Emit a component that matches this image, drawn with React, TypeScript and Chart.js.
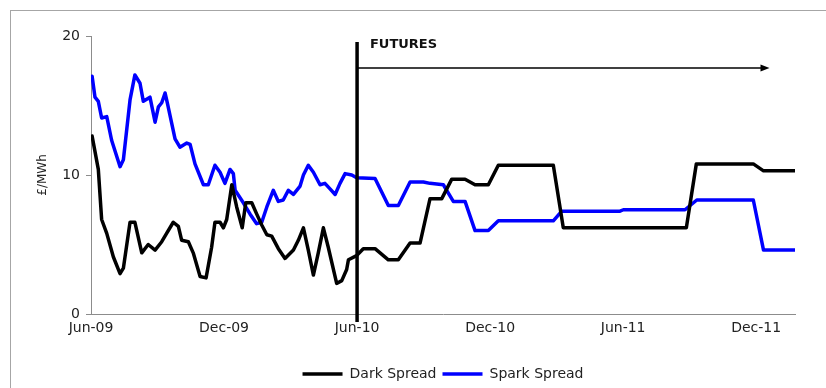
import { useEffect, useRef } from "react";
import { Chart, registerables } from "chart.js";

Chart.register(...registerables);

// x values are months elapsed since June 2009
const xTickMonths = [0, 6, 12, 18, 24, 30];
const xTickLabels = ["Jun-09", "Dec-09", "Jun-10", "Dec-10", "Jun-11", "Dec-11"];
const yTicks = [0, 10, 20];

const darkMonths = [
  0.05, 0.33, 0.48, 0.71, 1.01, 1.31, 1.46, 1.76, 1.98, 2.29, 2.58, 2.89, 3.19, 3.41, 3.71, 3.94,
  4.09, 4.39, 4.61, 4.92, 5.19, 5.44, 5.59, 5.82, 5.97, 6.12, 6.35, 6.57, 6.82, 6.98, 7.25, 7.47,
  7.7, 7.93, 8.15, 8.45, 8.75, 9.13, 9.35, 9.58, 9.8, 10.03, 10.25, 10.48, 10.7, 11.08, 11.31,
  11.53, 11.61, 11.98, 12.28, 12.81, 13.41, 13.86, 14.39, 14.84, 15.29, 15.82, 16.27, 16.87,
  17.32, 17.92, 18.37, 20.85, 21.3, 26.85, 27.3, 29.87, 30.33, 31.75,
];
const darkValues = [
  12.8, 10.4, 6.8, 5.8, 4.1, 2.9, 3.3, 6.6, 6.6, 4.4, 5.0, 4.6, 5.2, 5.8, 6.6, 6.3,
  5.3, 5.2, 4.4, 2.7, 2.6, 4.8, 6.6, 6.6, 6.2, 6.8, 9.3, 7.7, 6.2, 8.0, 8.0, 7.2,
  6.4, 5.7, 5.6, 4.7, 4.0, 4.6, 5.3, 6.2, 4.6, 2.8, 4.4, 6.2, 4.8, 2.2, 2.4,
  3.2, 3.9, 4.2, 4.7, 4.7, 3.9, 3.9, 5.1, 5.1, 8.3, 8.3, 9.7, 9.7,
  9.3, 9.3, 10.7, 10.7, 6.2, 6.2, 10.8, 10.8, 10.3, 10.3,
];

const sparkMonths = [
  0.05, 0.18, 0.33, 0.48, 0.71, 0.93, 1.31, 1.46, 1.76, 1.98, 2.21, 2.36, 2.66, 2.89, 3.04, 3.19,
  3.34, 3.44, 3.79, 4.01, 4.32, 4.47, 4.69, 5.07, 5.29, 5.59, 5.82, 6.04, 6.27, 6.42, 6.5, 6.87,
  7.17, 7.47, 7.7, 7.93, 8.22, 8.45, 8.67, 8.9, 9.13, 9.43, 9.58, 9.8, 10.03, 10.33, 10.55,
  10.78, 11.01, 11.23, 11.46, 11.76, 11.98, 12.81, 13.41, 13.86, 14.39, 14.99, 15.29, 15.89,
  16.34, 16.87, 17.32, 17.92, 18.37, 20.85, 21.23, 23.86, 24.01, 26.79, 27.32, 29.87, 30.33, 31.75,
];
const sparkValues = [
  17.1, 15.6, 15.3, 14.1, 14.2, 12.5, 10.6, 11.1, 15.4, 17.2, 16.6, 15.3, 15.6, 13.8, 14.9, 15.2,
  15.9, 15.2, 12.6, 12.0, 12.3, 12.2, 10.8, 9.3, 9.3, 10.7, 10.2, 9.4, 10.4, 10.1, 8.9, 8.0,
  7.2, 6.5, 6.6, 7.7, 8.9, 8.1, 8.2, 8.9, 8.6, 9.2, 10.0, 10.7, 10.2, 9.3, 9.4,
  9.0, 8.6, 9.4, 10.1, 10.0, 9.8, 9.75, 7.8, 7.8, 9.5, 9.5, 9.4, 9.3,
  8.1, 8.1, 6.0, 6.0, 6.7, 6.7, 7.4, 7.4, 7.5, 7.5, 8.2, 8.2, 4.6, 4.6,
];

// Futures period marker: starts at Jun-10, arrow runs to early 2012
const futuresStart = 12;
const futuresArrowEnd = 30.6;
const futuresLabel = "FUTURES";

const FONT = "'DejaVu Sans', 'Liberation Sans', Arial, sans-serif";
const AXIS_GREY = "#8c8c8c";
const TEXT = "#222222";

const futuresPlugin = {
  id: "futuresMarker",
  afterDatasetsDraw(chart: any) {
    const { ctx, chartArea, scales } = chart;
    const x = scales.x;
    const y = scales.y;
    const x0 = x.getPixelForValue(futuresStart);
    const x1 = x.getPixelForValue(futuresArrowEnd);
    const yTop = y.getPixelForValue(19.57);
    const yArrow = y.getPixelForValue(17.7);
    const yBottom = chartArea.bottom + 8;

    ctx.save();
    ctx.strokeStyle = "#000";
    ctx.lineWidth = 3.5;
    ctx.beginPath();
    ctx.moveTo(x0, yTop);
    ctx.lineTo(x0, yBottom);
    ctx.stroke();

    ctx.lineWidth = 1.5;
    ctx.beginPath();
    ctx.moveTo(x0, yArrow);
    ctx.lineTo(x1 - 6, yArrow);
    ctx.stroke();

    ctx.fillStyle = "#000";
    ctx.beginPath();
    ctx.moveTo(x1, yArrow);
    ctx.lineTo(x1 - 9, yArrow - 3.5);
    ctx.lineTo(x1 - 9, yArrow + 3.5);
    ctx.closePath();
    ctx.fill();

    ctx.fillStyle = "#111";
    ctx.font = `bold 13px ${FONT}`;
    ctx.textAlign = "left";
    ctx.textBaseline = "middle";
    ctx.fillText(futuresLabel, x.getPixelForValue(12.58), y.getPixelForValue(19.35));
    ctx.restore();
  },
};

export default function App() {
  const canvasRef = useRef<HTMLCanvasElement | null>(null);

  useEffect(() => {
    const canvas = canvasRef.current;
    if (!canvas) return;

    const chart = new Chart(canvas, {
      type: "line",
      data: {
        datasets: [
          {
            label: "Dark Spread",
            data: darkMonths.map((m, i) => ({ x: m, y: darkValues[i] })),
            borderColor: "#000000",
            backgroundColor: "#000000",
            borderWidth: 3.5,
            pointRadius: 0,
            tension: 0,
            borderJoinStyle: "round",
            borderCapStyle: "round",
          },
          {
            label: "Spark Spread",
            data: sparkMonths.map((m, i) => ({ x: m, y: sparkValues[i] })),
            borderColor: "#0000ff",
            backgroundColor: "#0000ff",
            borderWidth: 3.5,
            pointRadius: 0,
            tension: 0,
            borderJoinStyle: "round",
            borderCapStyle: "round",
          },
        ],
      },
      options: {
        responsive: false,
        maintainAspectRatio: false,
        animation: false,
        devicePixelRatio: 1,
        layout: { padding: { left: 32, right: 31, top: 36, bottom: -3 } },
        plugins: {
          legend: {
            position: "bottom",
            fullSize: false,
            labels: {
              usePointStyle: true,
              pointStyle: "line",
              pointStyleWidth: 40,
              padding: 6,
              color: TEXT,
              font: { family: FONT, size: 14 },
            },
          },
          tooltip: { enabled: false },
        },
        scales: {
          x: {
            type: "linear",
            min: 0,
            max: 31.75,
            afterBuildTicks: (scale: any) => {
              scale.ticks = xTickMonths.map((v) => ({ value: v }));
            },
            afterFit: (scale: any) => {
              scale.height = 47;
            },
            grid: { display: false, drawTicks: false },
            border: { color: AXIS_GREY, width: 1 },
            ticks: {
              autoSkip: false,
              maxRotation: 0,
              padding: 6,
              color: TEXT,
              font: { family: FONT, size: 14 },
              callback: (_v: any, i: number) => xTickLabels[i],
            },
          },
          y: {
            min: 0,
            max: 20,
            afterBuildTicks: (scale: any) => {
              scale.ticks = yTicks.map((v) => ({ value: v }));
            },
            afterFit: (scale: any) => {
              scale.width = 59;
            },
            grid: { drawOnChartArea: false, tickLength: 5, color: AXIS_GREY },
            border: { color: AXIS_GREY, width: 1 },
            ticks: {
              padding: 6,
              color: TEXT,
              font: { family: FONT, size: 14 },
            },
            title: {
              display: true,
              text: "£/MWh",
              color: TEXT,
              font: { family: FONT, size: 12 },
              padding: { top: 4, bottom: 4 },
            },
          },
        },
      },
      plugins: [futuresPlugin],
    });

    return () => chart.destroy();
  }, []);

  return (
    <div
      style={{
        position: "fixed",
        left: 0,
        top: 0,
        width: 826,
        height: 388,
        overflow: "hidden",
        background: "#ffffff",
      }}
    >
      <div
        style={{
          position: "absolute",
          left: 10,
          top: 10,
          width: 1000,
          height: 1000,
          border: "1px solid #a6a6a6",
        }}
      />
      <canvas
        ref={canvasRef}
        width={826}
        height={388}
        style={{ position: "absolute", left: 0, top: 0, width: 826, height: 388 }}
      />
    </div>
  );
}
